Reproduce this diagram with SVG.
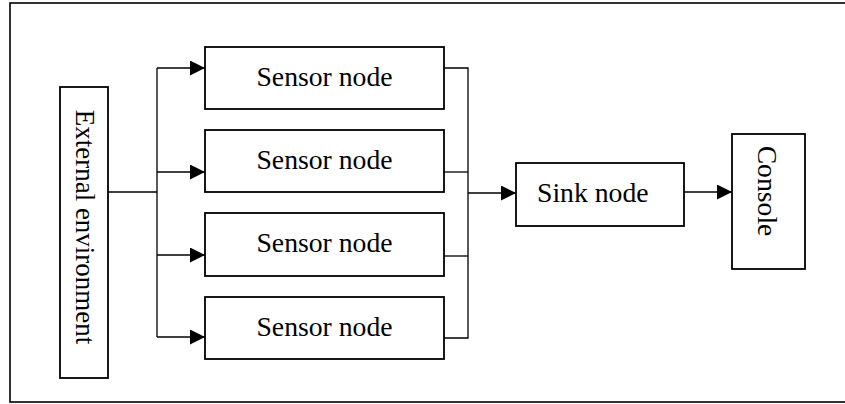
<svg xmlns="http://www.w3.org/2000/svg" width="845" height="404" viewBox="0 0 845 404">
  <style>
    .box { fill: #fff; stroke: #000; stroke-width: 1.8; }
    .frame { fill: none; stroke: #000; stroke-width: 1.6; }
    .wire { fill: none; stroke: #000; stroke-width: 1.3; }
    .label { font-family: "Liberation Serif", "Times New Roman", serif; font-size: 27.7px; fill: #000; }
  </style>
  <defs>
    <marker id="arrow" markerUnits="userSpaceOnUse" markerWidth="16" markerHeight="16" refX="15" refY="7.5" orient="auto">
      <path d="M0,0 L15,7.5 L0,15 Z" fill="#000"/>
    </marker>
  </defs>

  <!-- outer frame; its right side runs past the canvas -->
  <rect class="frame" x="10" y="3" width="845" height="399"/>

  <g id="connectors">
    <!-- environment into the fan-out trunk -->
    <path class="wire" d="M108,192 H157"/>
    <path class="wire" d="M157,68 V337"/>
    <path class="wire" d="M157,68 H205" marker-end="url(#arrow)"/>
    <path class="wire" d="M157,172 H205" marker-end="url(#arrow)"/>
    <path class="wire" d="M157,255 H205" marker-end="url(#arrow)"/>
    <path class="wire" d="M157,337 H205" marker-end="url(#arrow)"/>
    <!-- sensors merging into the sink -->
    <path class="wire" d="M444,68 H468 V338 H444"/>
    <path class="wire" d="M444,172 H468"/>
    <path class="wire" d="M444,256 H468"/>
    <path class="wire" d="M468,193 H516" marker-end="url(#arrow)"/>
    <!-- sink to console -->
    <path class="wire" d="M684,192 H732" marker-end="url(#arrow)"/>
  </g>

  <g id="external-environment">
    <rect class="box" x="60" y="87" width="48" height="291"/>
    <text class="label" style="font-size:27px" text-anchor="middle" transform="translate(76,227) rotate(90)">External environment</text>
  </g>

  <g id="sensor-node-1">
    <rect class="box" x="205" y="47" width="239" height="62"/>
    <text class="label" x="324.5" y="86" text-anchor="middle">Sensor node</text>
  </g>
  <g id="sensor-node-2">
    <rect class="box" x="205" y="130" width="239" height="62"/>
    <text class="label" x="324.5" y="169" text-anchor="middle">Sensor node</text>
  </g>
  <g id="sensor-node-3">
    <rect class="box" x="205" y="213" width="239" height="63"/>
    <text class="label" x="324.5" y="252" text-anchor="middle">Sensor node</text>
  </g>
  <g id="sensor-node-4">
    <rect class="box" x="205" y="297" width="239" height="62"/>
    <text class="label" x="324.5" y="336" text-anchor="middle">Sensor node</text>
  </g>

  <g id="sink-node">
    <rect class="box" x="516" y="163" width="168" height="63"/>
    <text class="label" x="537" y="202">Sink node</text>
  </g>

  <g id="console">
    <rect class="box" x="732" y="134" width="73" height="135"/>
    <text class="label" text-anchor="middle" transform="translate(758,191) rotate(90)">Console</text>
  </g>
</svg>
